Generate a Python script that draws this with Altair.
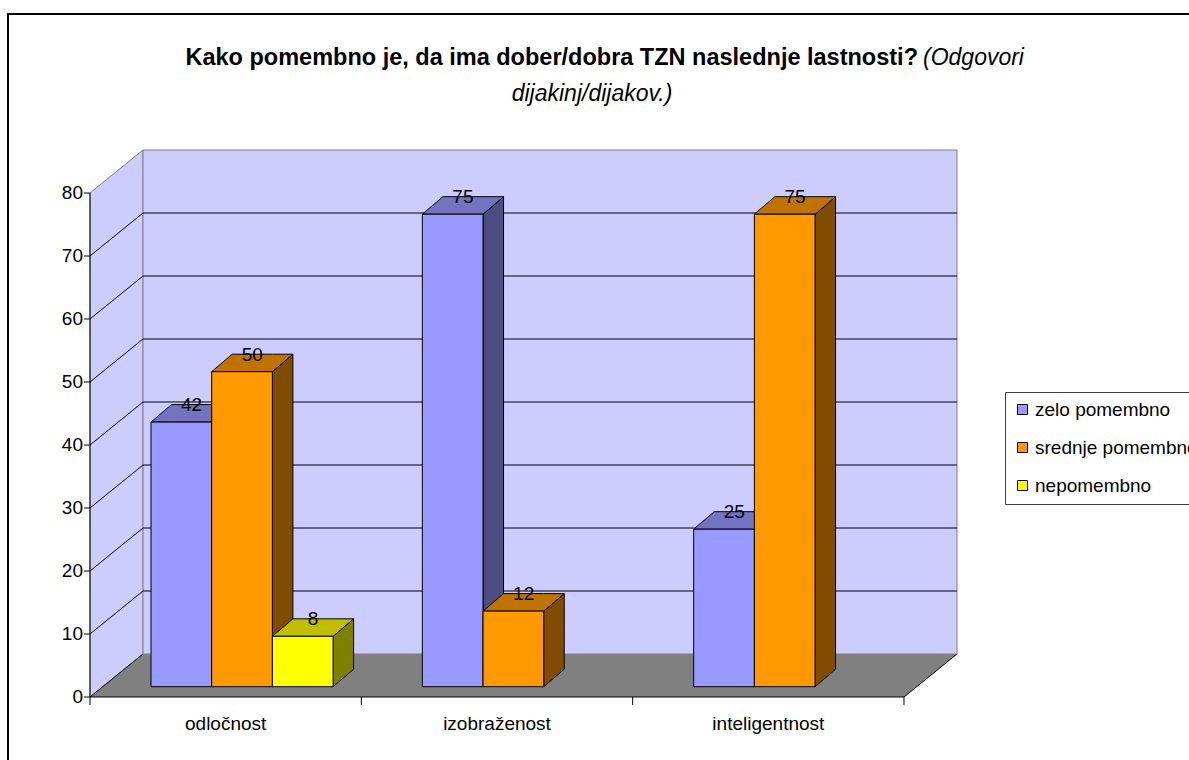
import altair as alt
import pandas as pd

# ---------------- data ----------------
categories = ["odločnost", "izobraženost", "inteligentnost"]
series = ["zelo pomembno", "srednje pomembno", "nepomembno"]
zelo_pomembno = [42, 75, 25]
srednje_pomembno = [50, 12, 75]
nepomembno = [8, None, None]
y_ticks = [0, 10, 20, 30, 40, 50, 60, 70, 80]

title_bold = "Kako pomembno je, da ima dober/dobra TZN naslednje lastnosti?"
title_italic_1 = "(Odgovori"
title_italic_2 = "dijakinj/dijakov.)"

front_colors = ["#9999FF", "#FF9900", "#FFFF00"]
top_colors = ["#7373BF", "#BF7300", "#BFBF00"]
side_colors = ["#4D4D80", "#804D00", "#808000"]

FONT = "Liberation Sans"

# ---------------- 3D geometry (style constants) ----------------
PX_X = 271.33          # pixels per category unit
PX_Y = 6.3             # pixels per value unit
DX = 53 / PX_X         # wall depth in x units
DY = 43 / PX_Y         # wall depth in y units
Y_TOP = 80
N_CAT = len(categories)
X_MAX = N_CAT + DX
Y_MAX = Y_TOP + DY
W = round(X_MAX * PX_X)
H = round(Y_MAX * PX_Y)
BAR_START = 61 / PX_X
BAR_W = 60.7 / PX_X
BAR_BASE = 10.3 / PX_Y
BDX = 20.5 / PX_X
BDY = 17.5 / PX_Y

xs = alt.Scale(domain=[0, X_MAX], nice=False, zero=False)
ys = alt.Scale(domain=[0, Y_MAX], nice=False, zero=False)

# ---------------- derived tables ----------------
values = [zelo_pomembno, srednje_pomembno, nepomembno]
bars, tops, sides = [], [], []
bid = 0
for ci, cat in enumerate(categories):
    for si, s in enumerate(series):
        v = values[si][ci]
        if v is None:
            continue
        l = ci + BAR_START + si * BAR_W
        r = l + BAR_W
        b = BAR_BASE
        t = b + v
        bars.append(dict(id=bid, series=s, value=v, l=l, r=r, b=b, t=t,
                         cx=(l + r) / 2 + BDX / 2))
        for x, y, y2 in [(l, t, t), (l + BDX, t, t + BDY), (r, t, t + BDY), (r + BDX, t + BDY, t + BDY)]:
            tops.append(dict(id=bid, x=x, y=y, y2=y2, col=top_colors[si]))
        for x, y, y2 in [(r, b, t), (r + BDX, b + BDY, t + BDY)]:
            sides.append(dict(id=bid, x=x, y=y, y2=y2, col=side_colors[si]))
        bid += 1
bars = pd.DataFrame(bars)
tops = pd.DataFrame(tops)
sides = pd.DataFrame(sides)

noax = None

# left wall
left_wall = alt.Chart(pd.DataFrame({"x": [0, DX], "y": [0, DY], "y2": [Y_TOP, Y_TOP + DY]})).mark_area(
    fill="#CCCCFF", stroke="#808080", strokeWidth=1, orient="vertical"
).encode(x=alt.X("x:Q", scale=xs, axis=noax), y=alt.Y("y:Q", scale=ys, axis=noax), y2="y2:Q")

back_wall = alt.Chart(pd.DataFrame({"x": [DX], "x2": [X_MAX], "y": [DY], "y2": [Y_MAX]})).mark_rect(
    fill="#CCCCFF", stroke="#808080", strokeWidth=1
).encode(x=alt.X("x:Q", scale=xs, axis=noax), x2="x2:Q", y=alt.Y("y:Q", scale=ys, axis=noax), y2="y2:Q")

floor = alt.Chart(pd.DataFrame({"x": [0, DX, N_CAT, N_CAT + DX], "y": [0, 0, 0, DY],
                                "y2": [0, DY, DY, DY]})).mark_area(fill="#808080", orient="vertical").encode(
    x=alt.X("x:Q", scale=xs, axis=noax), y=alt.Y("y:Q", scale=ys, axis=noax), y2="y2:Q")

grid_back = alt.Chart(pd.DataFrame({"t": y_ticks[1:-1]})).transform_calculate(
    yy=f"datum.t + {DY}", xa=f"{DX}", xb=f"{X_MAX}"
).mark_rule(color="black", strokeWidth=1).encode(
    x=alt.X("xa:Q", scale=xs, axis=noax), x2="xb:Q", y=alt.Y("yy:Q", scale=ys, axis=noax))

grid_left = alt.Chart(pd.DataFrame({"t": y_ticks[:-1]})).transform_calculate(
    yy=f"datum.t + {DY}", xa="0", xb=f"{DX}"
).mark_rule(color="black", strokeWidth=1).encode(
    x=alt.X("xa:Q", scale=xs, axis=noax), x2="xb:Q", y=alt.Y("t:Q", scale=ys, axis=noax), y2="yy:Q")

edges = alt.Chart(pd.DataFrame({
    "x": [N_CAT, 0, 0], "x2": [N_CAT + DX, N_CAT, 0], "y": [0, 0, 0], "y2": [DY, 0, Y_TOP]
})).mark_rule(color="black", strokeWidth=1).encode(
    x=alt.X("x:Q", scale=xs, axis=noax), x2="x2:Q", y=alt.Y("y:Q", scale=ys, axis=noax), y2="y2:Q")

xticks = alt.Chart(pd.DataFrame({"x": list(range(N_CAT + 1))})).transform_calculate(y0="0").mark_rule(
    color="black", strokeWidth=1
).encode(x=alt.X("x:Q", scale=xs, axis=noax), y=alt.Y("y0:Q", scale=ys, axis=noax), y2=alt.value(H + 8))

ytick_df = pd.DataFrame({"t": y_ticks})
yticks = alt.Chart(ytick_df).mark_rule(color="black", strokeWidth=1).encode(
    x=alt.value(-6), x2=alt.value(0), y=alt.Y("t:Q", scale=ys, axis=noax))
ylabels = alt.Chart(ytick_df).mark_text(
    font=FONT, fontSize=19, color="black", align="right", baseline="middle"
).encode(x=alt.value(-7), y=alt.Y("t:Q", scale=ys, axis=noax), text="t:Q")

side_layer = alt.Chart(sides).mark_area(stroke="black", strokeWidth=1, orient="vertical").encode(
    x=alt.X("x:Q", scale=xs, axis=noax), y=alt.Y("y:Q", scale=ys, axis=noax), y2="y2:Q",
    fill=alt.Fill("col:N", scale=None), detail="id:N")

top_layer = alt.Chart(tops).mark_area(stroke="black", strokeWidth=1, orient="vertical").encode(
    x=alt.X("x:Q", scale=xs, axis=noax), y=alt.Y("y:Q", scale=ys, axis=noax), y2="y2:Q",
    fill=alt.Fill("col:N", scale=None), detail="id:N")

front_layer = alt.Chart(bars).mark_rect(stroke="black", strokeWidth=1).encode(
    x=alt.X("l:Q", scale=xs, axis=noax), x2="r:Q",
    y=alt.Y("b:Q", scale=ys, axis=noax), y2="t:Q",
    fill=alt.Fill("series:N", scale=alt.Scale(domain=series, range=front_colors),
                  legend=alt.Legend(title=None, orient="none", legendX=915, legendY=242,
                                    symbolType="square", symbolSize=100, symbolStrokeColor="black",
                                    symbolStrokeWidth=1, labelFontSize=19, labelFont=FONT,
                                    labelColor="black", rowPadding=18, padding=8, labelOffset=3,
                                    labelLimit=0, strokeColor="#404040", fillColor="white")),
)

value_labels = alt.Chart(bars).mark_text(
    font=FONT, fontSize=19, color="black", baseline="alphabetic", align="center", dy=-11
).encode(x=alt.X("cx:Q", scale=xs, axis=noax), y=alt.Y("t:Q", scale=ys, axis=noax), text="value:Q")

cat_labels = alt.Chart(pd.DataFrame({"cat": categories, "pos": [i + 0.5 for i in range(N_CAT)]})).mark_text(
    font=FONT, fontSize=19, color="black", baseline="middle", align="center"
).encode(x=alt.X("pos:Q", scale=xs, axis=noax), y=alt.value(H + 27), text="cat:N")

t1 = alt.Chart(pd.DataFrame({"t": [title_bold]})).mark_text(
    font=FONT, fontSize=23.5, fontWeight="bold", color="black", align="right", baseline="alphabetic"
).encode(x=alt.value(828), y=alt.value(-85), text="t:N")
t2 = alt.Chart(pd.DataFrame({"t": [title_italic_1]})).mark_text(
    font=FONT, fontSize=23, fontStyle="italic", color="black", align="left", baseline="alphabetic"
).encode(x=alt.value(833), y=alt.value(-85), text="t:N")
t3 = alt.Chart(pd.DataFrame({"t": [title_italic_2]})).mark_text(
    font=FONT, fontSize=23, fontStyle="italic", color="black", align="center", baseline="alphabetic"
).encode(x=alt.value(502), y=alt.value(-49), text="t:N")

border = alt.Chart(pd.DataFrame({"a": [0]})).mark_rect(
    fillOpacity=0, stroke="black", strokeWidth=2
).encode(x=alt.value(-82), y=alt.value(-136), x2=alt.value(1120), y2=alt.value(630))

chart = alt.layer(
    left_wall, back_wall, floor, grid_back, grid_left, edges, xticks, yticks, ylabels,
    side_layer, top_layer, front_layer, value_labels, cat_labels, t1, t2, t3, border
).properties(
    width=W, height=H,
    autosize=alt.AutoSizeParams(type="none"),
    padding={"left": 90, "top": 150, "right": 1189 - 90 - W, "bottom": 760 - 150 - H},
    background="white",
).configure_view(stroke=None)

chart.save("out.html", embed_options={"renderer": "svg", "actions": False})
